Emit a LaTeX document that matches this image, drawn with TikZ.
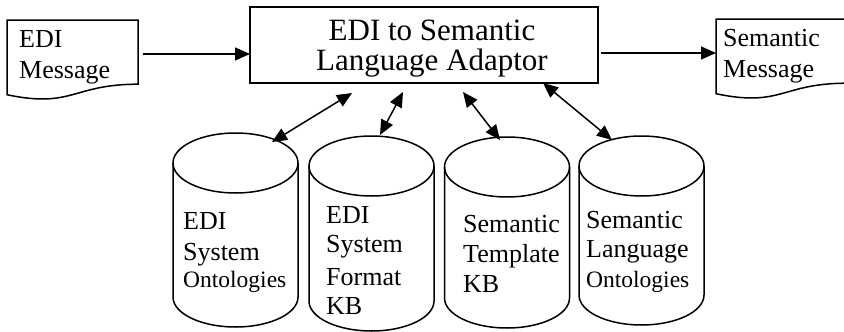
\documentclass[tikz,border=0pt]{standalone}
\usepackage{fontspec}
\setmainfont{Liberation Serif}
\usetikzlibrary{arrows.meta}
\newcommand\dbcyl[3]{%
  \draw[shapeline] (#1-62.5,#2) -- (#1-62.5,#3)
    arc[start angle=180,end angle=360,x radius=62.5pt,y radius=30pt] -- (#1+62.5,#2);
  \draw[shapeline] (#1,#2) ellipse[x radius=62.5pt,y radius=30pt];}
\begin{document}
\begin{tikzpicture}[x=1pt,y=-1pt,
  shapeline/.style={draw=black, line width=1.5pt},
  big/.style={font=\fontsize{31}{31}\selectfont, inner sep=0pt, anchor=base},
  lbl/.style={font=\fontsize{26}{26}\selectfont, inner sep=0pt, anchor=base west},
  lbls/.style={font=\fontsize{23.5}{23.5}\selectfont, inner sep=0pt, anchor=base west},
  flow/.style={line width=1.5pt, -{Triangle[length=15pt,width=13pt]}},
  link/.style={line width=1.5pt, {Triangle[length=15pt,width=13pt]}-{Triangle[length=15pt,width=13pt]}},
]
\useasboundingbox (0,0) rectangle (844,332);

% central adaptor box
\node[shapeline, minimum width=348pt, minimum height=76pt, inner sep=0pt] (adapt) at (424,45) {};
\node[big] (adaptA) at (432,40) {EDI to Semantic};
\node[big] (adaptB) at (432,70) {Language Adaptor};

% document shapes
\draw[shapeline] (7,20) -- (138,20) -- (138,84.2)
  .. controls (72.5,84.2) and (72.5,108.6) .. (7,94.7) -- cycle;
\node[lbl] (inA) at (19,47) {EDI};
\node[lbl] (inB) at (19,78) {Message};

\draw[shapeline] (716,19) -- (847,19) -- (847,83.2)
  .. controls (781.5,83.2) and (781.5,107.6) .. (716,93.7) -- cycle;
\node[lbl] (outA) at (723,46) {Semantic};
\node[lbl] (outB) at (723,77) {Message};

% cylinders
\dbcyl{235.5}{163}{297}
\dbcyl{371.5}{166}{301}
\dbcyl{507}{167}{298}
\dbcyl{641.5}{166}{295}

\node[lbl]  (c1a) at (183,229) {EDI};
\node[lbl]  (c1b) at (183,260) {System};
\node[lbls] (c1c) at (183,287) {Ontologies};

\node[lbl] (c2a) at (326,223) {EDI};
\node[lbl] (c2b) at (326,252) {System};
\node[lbl] (c2c) at (326,285) {Format};
\node[lbl] (c2d) at (326,314) {KB};

\node[lbl] (c3a) at (463,232) {Semantic};
\node[lbl] (c3b) at (463,262) {Template};
\node[lbl] (c3c) at (463,292) {KB};

\node[lbl]  (c4a) at (586,228) {Semantic};
\node[lbl]  (c4b) at (586,257) {Language};
\node[lbls] (c4c) at (586,287) {Ontologies};

% connector end points
\coordinate (inEnd) at (143,54);
\coordinate (adIn) at (250,54);
\coordinate (adOut) at (601,53);
\coordinate (outEnd) at (716,53);
\coordinate (k1top) at (272,142);
\coordinate (k1box) at (352,93);
\coordinate (k2top) at (380,135);
\coordinate (k2box) at (403,92);
\coordinate (k3top) at (500,140);
\coordinate (k3box) at (463,92);
\coordinate (k4top) at (612,140);
\coordinate (k4box) at (543,83);

\draw[flow] (inEnd) -- (adIn);
\draw[flow] (adOut) -- (outEnd);
\draw[link] (k1top) -- (k1box);
\draw[link] (k2top) -- (k2box);
\draw[link] (k3top) -- (k3box);
\draw[link] (k4top) -- (k4box);
\end{tikzpicture}
\end{document}
